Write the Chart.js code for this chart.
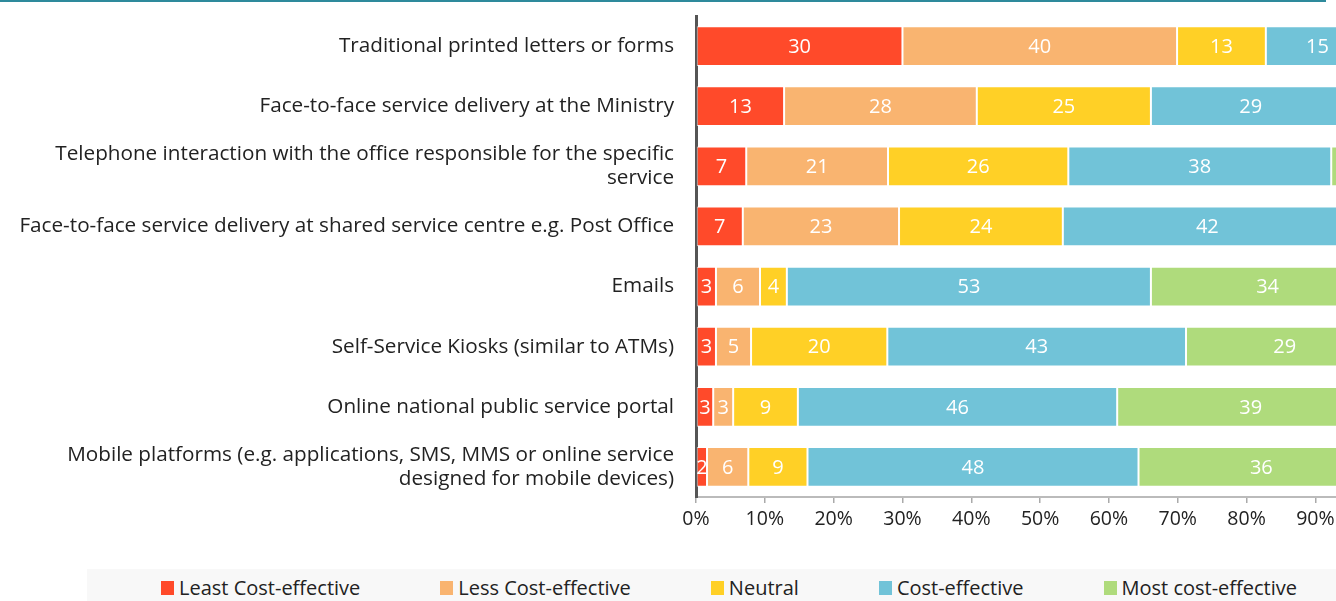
<!DOCTYPE html>
<html>
<head>
<meta charset="utf-8">
<script src="https://cdn.jsdelivr.net/npm/chart.js@4.4.1/dist/chart.umd.min.js"></script>
<style>
  html, body { margin: 0; padding: 0; background: #fff; overflow: hidden; width: 1336px; height: 601px; }
  #topline { position: absolute; left: 0; top: 0; width: 1326px; height: 2px; background: #2e8a9c; }
  #wrap { position: absolute; left: 0; top: 0; width: 1414px; height: 540px; }
  #legend { position: absolute; left: 87px; top: 569px; width: 1284px; height: 40px; background: #f8f8f8;
            display: flex; justify-content: center; align-items: flex-start; gap: 80px; padding-top: 5px; box-sizing: border-box;
            font-family: "Open Sans", sans-serif; font-size: 20px; line-height: 27px; color: #222; }
  #legend span.item { display: flex; align-items: center; white-space: nowrap; height: 27px; }
  #legend span.box { display: inline-block; width: 13px; height: 14px; margin-right: 5px; }
</style>
</head>
<body>
<div id="topline"></div>
<div id="wrap"><canvas id="myChart"></canvas></div>
<div id="legend"></div>
<script>
const categories = [
  'Traditional printed letters or forms',
  'Face-to-face service delivery at the Ministry',
  ['Telephone interaction with the office responsible for the specific', 'service'],
  'Face-to-face service delivery at shared service centre e.g. Post Office',
  'Emails',
  'Self-Service Kiosks (similar to ATMs)',
  'Online national public service portal',
  ['Mobile platforms (e.g. applications, SMS, MMS or online service', 'designed for mobile devices)']
];
const seriesNames = ['Least Cost-effective', 'Less Cost-effective', 'Neutral', 'Cost-effective', 'Most cost-effective'];
const leastCost = [30.0, 12.8, 7.3, 6.8, 2.9, 2.9, 2.5, 1.6];
const lessCost  = [39.9, 28.0, 20.6, 22.7, 6.4, 5.1, 2.9, 6.0];
const neutral   = [12.9, 25.3, 26.2, 23.8, 3.9, 19.8, 9.4, 8.6];
const costEff   = [15.0, 29.0, 38.2, 42.0, 52.9, 43.4, 46.4, 48.1];
const mostCost  = [2.2, 4.9, 7.7, 4.7, 33.9, 28.7, 38.8, 35.7];
const xTicks = [0, 10, 20, 30, 40, 50, 60, 70, 80, 90, 100];

const colors = ['#ff4a2a', '#f9b470', '#ffd026', '#71c3d8', '#afdb7c'];
const allSeries = [leastCost, lessCost, neutral, costEff, mostCost];
const FONT = '"Open Sans", sans-serif';

// white numbers in the middle of each segment
const barLabels = {
  id: 'barLabels',
  afterDatasetsDraw(chart) {
    const ctx = chart.ctx;
    ctx.save();
    ctx.fillStyle = '#fff';
    ctx.font = '20px ' + FONT;
    ctx.textAlign = 'center';
    ctx.textBaseline = 'middle';
    chart.data.datasets.forEach(function (ds, i) {
      chart.getDatasetMeta(i).data.forEach(function (bar, j) {
        const p = bar.getProps(['x', 'y', 'base'], true);
        ctx.fillText(Math.round(ds.data[j]), (p.x + p.base) / 2, p.y + 1);
      });
    });
    ctx.restore();
  }
};

const chart = new Chart('myChart', {
  type: 'bar',
  data: {
    labels: categories,
    datasets: allSeries.map(function (d, i) {
      return {
        label: seriesNames[i],
        data: d,
        backgroundColor: colors[i],
        borderColor: 'rgba(255,255,255,0.65)',
        borderWidth: 1,
        borderSkipped: false,
        barPercentage: 0.66,
        categoryPercentage: 1
      };
    })
  },
  options: {
    indexAxis: 'y',
    responsive: true,
    maintainAspectRatio: false,
    animation: false,
    layout: { padding: { top: 16, left: 0, right: 0, bottom: 0 } },
    plugins: {
      legend: { display: false },
      tooltip: { enabled: false }
    },
    scales: {
      x: {
        stacked: true,
        min: 0,
        max: 100,
        afterBuildTicks: function (scale) { scale.ticks = xTicks.map(v => ({ value: v })); },
        afterFit: function (scale) { scale.height = 43; },
        ticks: {
          callback: v => v + '%',
          color: '#222',
          font: { family: FONT, size: 19.5 },
          padding: 5,
          maxRotation: 0
        },
        grid: { drawOnChartArea: false, drawTicks: true, tickLength: 6, color: '#aaa', lineWidth: 1.5 },
        border: { display: true, color: '#bbb', width: 2 }
      },
      y: {
        stacked: true,
        afterFit: function (scale) {
          scale.width = 696;
          scale.paddingTop = 0;
          scale.paddingBottom = 0;
        },
        ticks: {
          color: '#222',
          font: { family: FONT, size: 20.7, lineHeight: 1.16 },
          padding: 22
        },
        grid: { display: false, drawTicks: false },
        border: { display: true, color: '#555', width: 3 }
      }
    }
  },
  plugins: [barLabels]
});

// html legend from the datasets
const legendEl = document.getElementById('legend');
chart.data.datasets.forEach(function (ds) {
  const item = document.createElement('span');
  item.className = 'item';
  item.innerHTML = '<span class="box" style="background:' + ds.backgroundColor + '"></span>' + ds.label;
  legendEl.appendChild(item);
});
</script>
</body>
</html>
